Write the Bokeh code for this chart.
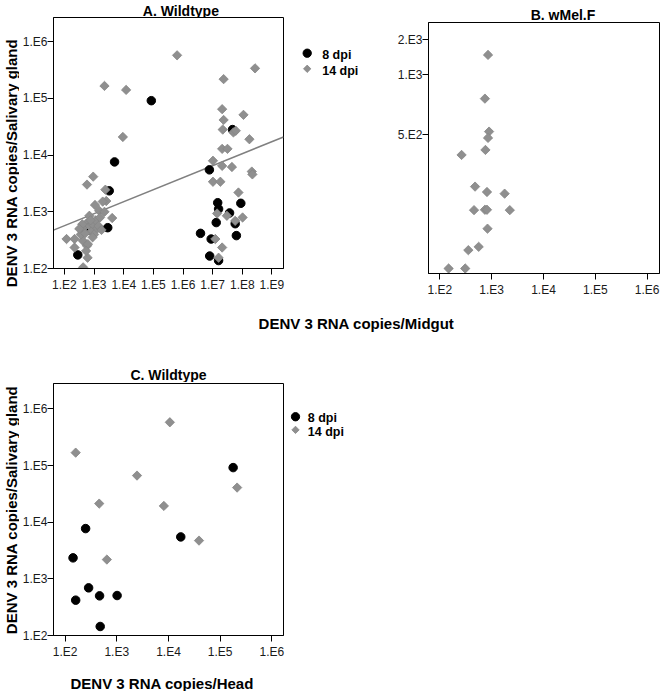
import numpy as np
from bokeh.plotting import figure
from bokeh.models import Range1d, FixedTicker
from bokeh.layouts import column, row
from bokeh.embed import file_html
from bokeh.resources import INLINE
from bokeh.core.properties import value

# ---------------- data (log10 copies) ----------------
# Panel A: Wildtype, midgut (x) vs salivary gland (y)
a8_x = [2.45, 2.62, 2.80, 3.46, 3.51, 3.69, 4.93,
        6.89, 7.17, 7.95, 7.20, 7.57, 7.76, 7.12, 6.59, 6.95, 7.80, 6.90, 7.20, 7.67]
a8_y = [2.24, 2.66, 2.68, 2.72, 3.37, 3.88, 4.96,
        3.74, 3.16, 3.15, 3.05, 2.98, 2.79, 2.81, 2.62, 2.52, 2.58, 2.22, 2.14, 4.45]
a14_x = [2.07, 2.34, 2.63, 2.78, 2.76, 2.76, 2.97, 3.38, 3.41, 3.61, 3.03, 3.29, 3.17,
         2.84, 2.62, 2.34, 2.79, 2.73, 2.55, 2.65, 2.75, 2.85, 2.95, 3.05, 3.10, 2.90,
         3.00, 3.15, 3.25, 2.70, 2.60, 2.88, 3.20, 2.50, 3.35, 2.95,
         3.35, 4.08, 3.97, 5.80,
         7.37, 8.43, 7.32, 8.04, 7.37, 7.34, 7.70, 7.78, 8.24, 7.32, 7.50, 7.01, 7.32,
         7.65, 8.32, 8.34, 7.01, 7.26, 7.87, 7.15, 7.48, 8.01, 7.76, 7.09, 7.32, 7.20]
a14_y = [2.52, 2.37, 2.02, 2.19, 2.40, 3.48, 3.62, 3.39, 3.19, 2.89, 3.12, 3.18, 3.02,
         2.93, 2.49, 2.52, 2.43, 2.31, 2.60, 2.72, 2.80, 2.75, 2.78, 2.85, 2.70, 2.65,
         2.60, 2.75, 2.68, 2.62, 2.78, 2.85, 2.90, 2.70, 3.00, 2.55,
         5.22, 5.15, 4.32, 5.76,
         5.34, 5.53, 4.81, 4.71, 4.62, 4.45, 4.40, 4.43, 4.28, 4.11, 4.11, 3.90, 3.81,
         3.79, 3.71, 3.66, 3.53, 3.53, 3.34, 2.97, 2.93, 2.90, 2.84, 2.52, 2.37, 2.19]
# regression line (log-log fit) for panel A
fit_intercept = 2.332
fit_slope = 0.2117

# Panel B: wMel.F, 14 dpi only
b14_x = [2.93, 2.87, 2.95, 2.93, 2.88, 2.42, 2.68, 2.91, 3.25, 2.66, 2.87, 2.91,
         3.35, 2.92, 2.75, 2.55, 2.17, 2.49]
b14_y = [3.106, 2.870, 2.692, 2.658, 2.593, 2.566, 2.395, 2.366, 2.357, 2.268, 2.270,
         2.270, 2.268, 2.168, 2.070, 2.052, 1.953, 1.953]

# Panel C: Wildtype, head (x) vs salivary gland (y)
c8_x = [5.25, 4.237, 2.397, 2.154, 2.455, 2.205, 2.667, 3.006, 2.679]
c8_y = [4.965, 3.741, 3.888, 3.371, 2.841, 2.624, 2.70, 2.706, 2.159]
c14_x = [2.205, 4.026, 3.391, 2.660, 3.910, 5.327, 4.590, 2.808]
c14_y = [5.229, 5.765, 4.824, 4.329, 4.288, 4.612, 3.676, 3.341]

# ticks
a_xticks = [1e2, 1e3, 1e4, 1e5, 1e6, 1e7, 1e8, 1e9]
a_xlabels = ["1.E2", "1.E3", "1.E4", "1.E5", "1.E6", "1.E7", "1.E8", "1.E9"]
a_yticks = [1e2, 1e3, 1e4, 1e5, 1e6]
a_ylabels = ["1.E2", "1.E3", "1.E4", "1.E5", "1.E6"]
b_xticks = [1e2, 1e3, 1e4, 1e5, 1e6]
b_xlabels = ["1.E2", "1.E3", "1.E4", "1.E5", "1.E6"]
b_yticks = [472.0, 1000.0, 1538.0]
b_ylabels = ["5.E2", "1.E3", "2.E3"]
c_xticks = [1e2, 1e3, 1e4, 1e5, 1e6]
c_xlabels = ["1.E2", "1.E3", "1.E4", "1.E5", "1.E6"]
c_yticks = [1e2, 1e3, 1e4, 1e5, 1e6]
c_ylabels = ["1.E2", "1.E3", "1.E4", "1.E5", "1.E6"]
legend_labels = ["8 dpi", "14 dpi"]

FONT = "Liberation Sans"
GRAY = "#8f8f8f"
GRAY_LINE = "#858585"


def pw(v):
    return [10 ** t for t in v]


def make_fig(width, height, xr, yr, bl, br, bt, bb):
    p = figure(width=width, height=height, x_axis_type="log", y_axis_type="log",
               x_range=Range1d(10 ** xr[0], 10 ** xr[1]),
               y_range=Range1d(10 ** yr[0], 10 ** yr[1]),
               min_border_left=bl, min_border_right=br, min_border_top=bt,
               min_border_bottom=bb, toolbar_location=None, output_backend="svg",
               title=None)
    p.grid.visible = False
    p.outline_line_color = "black"
    p.outline_line_width = 1
    p.background_fill_color = "white"
    p.border_fill_color = "white"
    for ax in (p.xaxis[0], p.yaxis[0]):
        ax.axis_line_color = "black"
        ax.major_tick_line_color = "black"
        ax.major_tick_out = 6
        ax.major_tick_in = 0
        ax.minor_tick_line_color = None
        ax.major_label_text_font = FONT
        ax.major_label_text_font_size = "12px"
        ax.major_label_text_color = "#1a1a1a"
    p.xaxis[0].major_label_standoff = 3
    p.yaxis[0].major_label_standoff = 0
    return p


def make_strip(width, height):
    s = figure(width=width, height=height, x_range=Range1d(0, width),
               y_range=Range1d(0, height), min_border=0, x_axis_location=None,
               y_axis_location=None, toolbar_location=None, output_backend="svg",
               title=None)
    s.grid.visible = False
    s.outline_line_color = None
    s.background_fill_color = None
    s.border_fill_color = None
    return s


def add_text(s, text, x, y, size, angle=0.0, align="center"):
    s.text(x=[x], y=[y], text=[text], angle=angle, text_align=align,
           text_baseline="alphabetic", text_font=value(FONT), text_font_style="bold",
           text_font_size=size, text_color="black")


def set_ticks(ax, ticks, labels):
    ax.ticker = FixedTicker(ticks=ticks)
    ax.major_label_overrides = {t: l for t, l in zip(ticks, labels)}


def scatter8(p, x, y, size=8.5):
    return p.scatter(x, y, marker="circle", size=size, fill_color="black",
                     line_color="black")


def scatter14(p, x, y, size=6.6):
    return p.scatter(x, y, marker="square", angle=np.pi / 4, size=size,
                     fill_color=GRAY, line_color=GRAY_LINE, line_width=0.8)


def legend_strip(height, gx, gy8, gy14, tx):
    # key: swatch + bold label per series, in pixel units of this small canvas
    s = make_strip(92, height)
    scatter8(s, [gx], [gy8], size=8.3)
    scatter14(s, [gx], [gy14], size=5.2)
    add_text(s, legend_labels[0], tx, gy8 - 1.9, "12.5px", align="left")
    add_text(s, legend_labels[1], tx, gy14 - 1.9, "12.5px", align="left")
    return s


# ---------------- Panel A ----------------
a_xr = (1.63, 9.39)
a_yr = (2.0, 6.427)
pA = make_fig(269, 283, a_xr, a_yr, 33, 5, 0, 32)
set_ticks(pA.xaxis[0], a_xticks, a_xlabels)
set_ticks(pA.yaxis[0], a_yticks, a_ylabels)
fx = np.array(a_xr)
pA.line(10 ** fx, 10 ** (fit_intercept + fit_slope * fx), line_color="#808080",
        line_width=1.5)
scatter8(pA, pw(a8_x), pw(a8_y))
scatter14(pA, pw(a14_x), pw(a14_y))
legA = legend_strip(300, 18.7, 247.3, 231.7, 33.7)

titleA = make_strip(269, 17)
add_text(titleA, "A. Wildtype", 149, 7, "14px")
ylabA = make_strip(19, 300)
add_text(ylabA, "DENV 3 RNA copies/Salivary gland", 10.7, 137.5, "15px", angle=np.pi / 2)

# ---------------- Panel B ----------------
b_xr = (1.782, 6.237)
b_yr = (1.926, 3.281)
pB = make_fig(280, 278, b_xr, b_yr, 48, 1, 0, 27)
set_ticks(pB.xaxis[0], b_xticks, b_xlabels)
set_ticks(pB.yaxis[0], b_yticks, b_ylabels)
scatter14(pB, pw(b14_x), pw(b14_y))
titleB = make_strip(280, 22)
add_text(titleB, "B. wMel.F", 163, 7.5, "14px")

# ---------------- middle strip (shared x label + C title) ----------------
mid = make_strip(660, 82)
add_text(mid, "DENV 3 RNA copies/Midgut", 356, 59.5, "15px")
add_text(mid, "C. Wildtype", 168, 7.2, "14px")

# ---------------- Panel C ----------------
c_xr = (1.776, 6.224)
c_yr = (2.0, 6.45)
pC = make_fig(269, 288, c_xr, c_yr, 33, 5, 1, 35)
set_ticks(pC.xaxis[0], c_xticks, c_xlabels)
set_ticks(pC.yaxis[0], c_yticks, c_ylabels)
scatter8(pC, pw(c8_x), pw(c8_y))
scatter14(pC, pw(c14_x), pw(c14_y))
legC = legend_strip(288, 7, 250, 235, 19.3)
ylabC = make_strip(19, 288)
add_text(ylabC, "DENV 3 RNA copies/Salivary gland", 10.7, 143.5, "15px", angle=np.pi / 2)

bottom = make_strip(660, 21)
add_text(bottom, "DENV 3 RNA copies/Head", 161.7, 8.3, "15px")

layout = column(
    row(ylabA, column(titleA, pA), legA, column(titleB, pB)),
    mid,
    row(ylabC, pC, legC),
    bottom,
)
open("out.html", "w").write(file_html(layout, INLINE))
